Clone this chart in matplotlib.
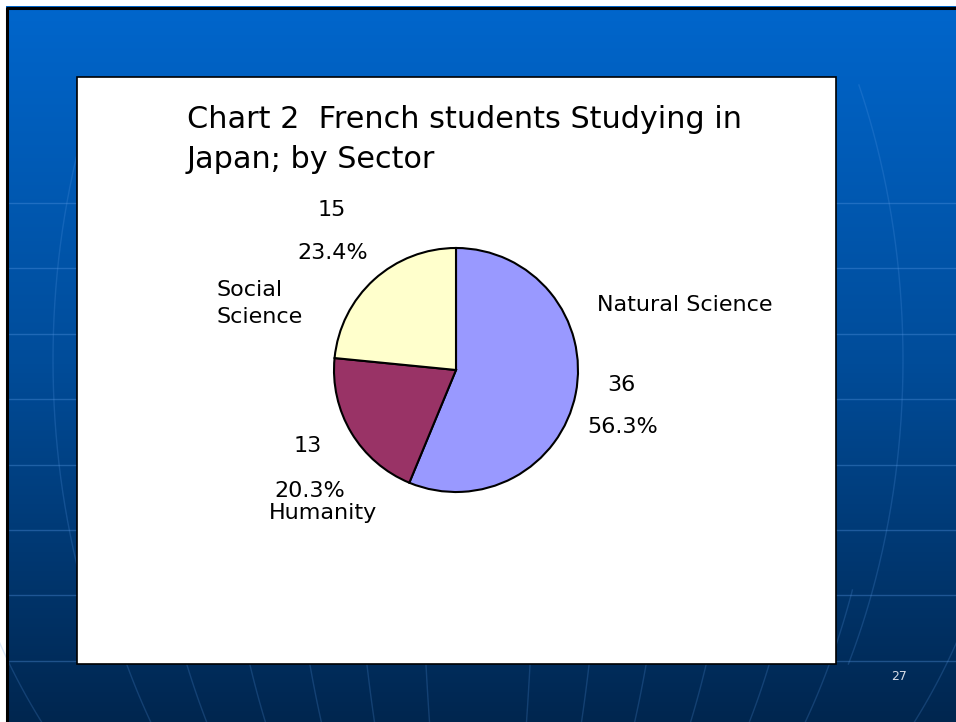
import numpy as np
import matplotlib.pyplot as plt
from matplotlib.patches import Rectangle
from matplotlib.colors import LinearSegmentedColormap

# Data
sectors = ["Natural Science", "Humanity", "Social\nScience"]
students = [36, 13, 15]
title_lines = ["Chart 2  French students Studying in", "Japan; by Sector"]
page_no = "27"

# Layout (pixel coords of the slide)
W, H = 956, 722
pie_cx, pie_cy, pie_r = 456, 370, 122
name_pos = [(684.5, 311, "center"), (323, 519, "center"), (217, 296, "left")]
count_pos = [(621.5, 391), (308, 452), (332, 216)]
pct_pos = [(623, 433), (309.5, 497), (332.5, 259)]
colors = ["#9999FF", "#993366", "#FFFFCC"]


def pct_text(v):
    return "%.1f%%" % (np.floor(v * 10 + 0.5) / 10)


def main():
    plt.rcParams['font.family'] = ['DejaVu Sans']
    fig = plt.figure(figsize=(W / 100, H / 100), dpi=100, facecolor="white")

    bg = fig.add_axes([0, 0, 1, 1])
    grad = np.linspace(0, 1, 256).reshape(-1, 1)
    cmap = LinearSegmentedColormap.from_list("slide", ["#0066CC", "#004C99", "#00264F"])
    bg.imshow(grad, extent=(6, W, H, 6), cmap=cmap, aspect="auto", zorder=0)

    # faint globe decoration
    hline_kw = dict(color="#5a9ae6", alpha=0.35, lw=1, zorder=1)
    arc_kw = dict(color="#5a9ae6", alpha=0.22, lw=1, zorder=1)
    for y in np.arange(203, 665, 65.4):
        bg.plot([9, W], [y, y], **hline_kw)
    gcx, gcy, gb = 478, 360, 620
    ya = np.linspace(85, 664, 200)
    xa = 425 * np.sqrt(1 - ((ya - gcy) / gb) ** 2)
    bg.plot(gcx - xa, ya, **arc_kw)
    bg.plot(gcx + xa, ya, **arc_kw)
    yy = np.linspace(590, H, 100)
    for off in [52, 111, 168, 228, 291, 351, 468]:
        a = off / np.sqrt(1 - ((665 - gcy) / gb) ** 2)
        xs = a * np.sqrt(1 - ((yy - gcy) / gb) ** 2)
        bg.plot(gcx - xs, yy, **arc_kw)
        bg.plot(gcx + xs, yy, **arc_kw)

    bg.plot([7.5, 7.5, W], [H, 7.5, 7.5], color="black", lw=2.2,
            solid_capstyle="butt", zorder=2)
    bg.add_patch(Rectangle((77, 77), 759, 587, fc="white", ec="black", lw=1.2, zorder=2))

    for k, line in enumerate(title_lines):
        bg.text(187, 128 + k * 40.5, line, ha="left", va="baseline", fontsize=21.8, zorder=3)

    total = sum(students)
    for i in range(len(students)):
        nx, ny, ha = name_pos[i]
        for j, part in enumerate(sectors[i].split("\n")):
            bg.text(nx, ny + j * 27, part, ha=ha, va="baseline", fontsize=16, zorder=3)
        cx, cy = count_pos[i]
        bg.text(cx, cy, str(students[i]), ha="center", va="baseline", fontsize=16, zorder=3)
        px, py = pct_pos[i]
        bg.text(px, py, pct_text(students[i] / total * 100), ha="center",
                va="baseline", fontsize=16, zorder=3)

    bg.text(899, 680, page_no, ha="center", va="baseline", fontsize=9,
            color="#d5dbe6", zorder=3)

    bg.set_xlim(0, W)
    bg.set_ylim(H, 0)
    bg.axis("off")

    lim = 1.05
    r = pie_r * lim
    pax = fig.add_axes([(pie_cx - r) / W, 1 - (pie_cy + r) / H, 2 * r / W, 2 * r / H])
    pax.pie(students, colors=colors, startangle=90, counterclock=False,
            wedgeprops=dict(edgecolor="black", linewidth=1.5))
    pax.set_xlim(-lim, lim)
    pax.set_ylim(-lim, lim)
    pax.axis("off")

    fig.savefig("out.png", dpi=100)


if __name__ == "__main__":
    main()
